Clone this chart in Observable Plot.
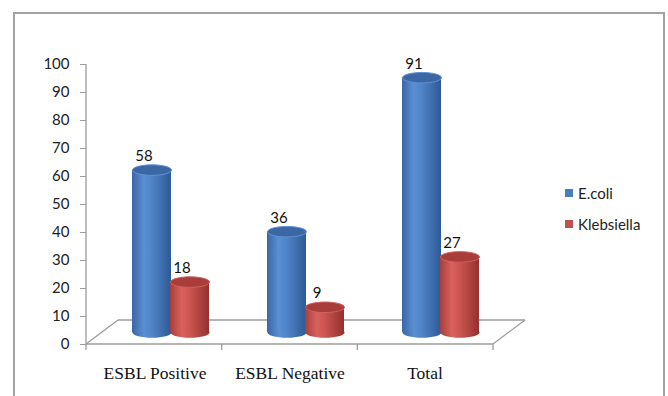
<!DOCTYPE html>
<html><head><meta charset="utf-8">
<script src="https://cdn.jsdelivr.net/npm/d3@7"></script>
<script src="https://cdn.jsdelivr.net/npm/@observablehq/plot@0.6"></script>
<style>
html,body{margin:0;padding:0;background:#fff;}
#wrap{position:relative;width:668px;height:396px;overflow:hidden;background:#fff;}
#chart{position:absolute;left:0;top:0;}
#border{position:absolute;left:13px;top:12px;width:652px;height:420px;border:2px solid #a3a3a3;box-sizing:border-box;pointer-events:none;}
#legend{position:absolute;left:565px;top:185px;font-family:Lato,"Open Sans",sans-serif;font-size:15px;color:#222;}
.item{display:flex;align-items:center;height:16px;margin-bottom:15px;white-space:nowrap;}
.sw{width:8px;height:8px;margin-right:5px;}
</style></head>
<body><div id="wrap"><div id="chart"></div><div id="border"></div><div id="legend"></div></div>
<script>
const categories = ["ESBL Positive", "ESBL Negative", "Total"];
const series = ["E.coli", "Klebsiella"];
const ecoli = [58, 36, 91];
const klebsiella = [18, 9, 27];
const yTicks = [0, 10, 20, 30, 40, 50, 60, 70, 80, 90, 100];
const seriesColors = ["#4a7ebb", "#c0504d"];

const values = [ecoli, klebsiella];
const rows = categories.flatMap((c, i) => series.map((s, k) => ({category: c, series: s, k, value: values[k][i]})));

// styling / 3D look
const barDx = [-3, 35], barDy = -12, depthDx = 32, depthDy = 24;
const bodyStops = [
  [["0%", "#3a67a6"], ["30%", "#5b8fd3"], ["50%", "#5084c8"], ["100%", "#2e5a96"]],
  [["0%", "#a63e3b"], ["30%", "#d9625e"], ["50%", "#cc5551"], ["100%", "#94302e"]]
];
const capFill = ["#3b68a5", "#a83d3a"];
const capStroke = ["#5f92d4", "#d0605c"];

const ellipse = {
  draw(ctx, size) {
    const rx = Math.sqrt(size / Math.PI), ry = rx * 0.27, k = 0.5523;
    ctx.moveTo(rx, 0);
    ctx.bezierCurveTo(rx, ry * k, rx * k, ry, 0, ry);
    ctx.bezierCurveTo(-rx * k, ry, -rx, ry * k, -rx, 0);
    ctx.bezierCurveTo(-rx, -ry * k, -rx * k, -ry, 0, -ry);
    ctx.bezierCurveTo(rx * k, -ry, rx, -ry * k, rx, 0);
    ctx.closePath();
  }
};

const defsMark = () => {
  const defs = d3.create("svg:defs");
  bodyStops.forEach((stops, k) => {
    const g = defs.append("linearGradient").attr("id", "body" + k).attr("x1", 0).attr("x2", 1).attr("y1", 0).attr("y2", 0);
    stops.forEach(([o, c]) => g.append("stop").attr("offset", o).attr("stop-color", c));
  });
  return defs.node();
};

const floorMark = (index, scales, vals, dims) => {
  const {width, marginLeft, marginRight} = dims;
  const x0 = marginLeft, x1 = width - marginRight;
  const y0 = scales.y(0), yTop = scales.y(100);
  const step = (x1 - x0) / categories.length;
  const g = d3.create("svg:g").attr("stroke", "#9c9c9c").attr("fill", "none").attr("stroke-width", 1.3);
  const line = (a, b, c, d) => g.append("line").attr("x1", a).attr("y1", b).attr("x2", c).attr("y2", d);
  line(x0, yTop, x0, y0 + 0.5);
  line(x0, y0, x1, y0);
  line(x0, y0, x0 + depthDx, y0 - depthDy);
  line(x0 + depthDx, y0 - depthDy, x1 + depthDx, y0 - depthDy);
  line(x1, y0, x1 + depthDx, y0 - depthDy);
  for (let i = 0; i <= categories.length; i++) line(x0 + i * step, y0, x0 + i * step, y0 + 6);
  return g.node();
};

const seriesMarks = series.flatMap((s, k) => {
  const d = rows.filter(r => r.k === k);
  return [
    Plot.dot(d, {x: "category", y: () => 0, r: 19.5, symbol: ellipse, fill: `url(#body${k})`, dx: barDx[k], dy: barDy}),
    Plot.barY(d, {x: "category", y: "value", fill: `url(#body${k})`, dx: barDx[k], dy: barDy}),
    Plot.dot(d, {x: "category", y: "value", r: 19.5, symbol: ellipse, fill: capFill[k], stroke: capStroke[k], strokeWidth: 1, dx: barDx[k], dy: barDy}),
    Plot.text(d, {x: "category", y: "value", text: r => String(r.value), dx: barDx[k] - 8, dy: -26, fontSize: 15, fontFamily: "Lato", fill: "#111"})
  ];
});

const chart = Plot.plot({
  width: 668,
  height: 396,
  marginLeft: 86,
  marginRight: 175,
  marginTop: 64,
  marginBottom: 52,
  style: {background: "transparent", fontFamily: "Lato", fontSize: "15px", color: "#222", overflow: "visible"},
  x: {domain: categories, paddingInner: 0.7125, paddingOuter: 0.35625, axis: null, label: null},
  y: {domain: [0, 100], axis: null, label: null},
  marks: [
    defsMark,
    floorMark,
    Plot.axisY({ticks: yTicks, label: null, tickSize: 6, tickPadding: 11, stroke: "#9c9c9c", fill: "#222", fontSize: 15, fontFamily: "Lato", tickFormat: d => String(d)}),
    Plot.axisX({label: null, tickSize: 0, tickPadding: 22, fontSize: 17.5, fontFamily: "Liberation Serif", fill: "#111"}),
    ...seriesMarks
  ]
});
document.getElementById("chart").appendChild(chart);

const legend = d3.select("#legend");
series.forEach((s, k) => {
  const it = legend.append("div").attr("class", "item");
  it.append("div").attr("class", "sw").style("background", seriesColors[k]);
  it.append("span").text(s);
});
</script>
</body></html>
